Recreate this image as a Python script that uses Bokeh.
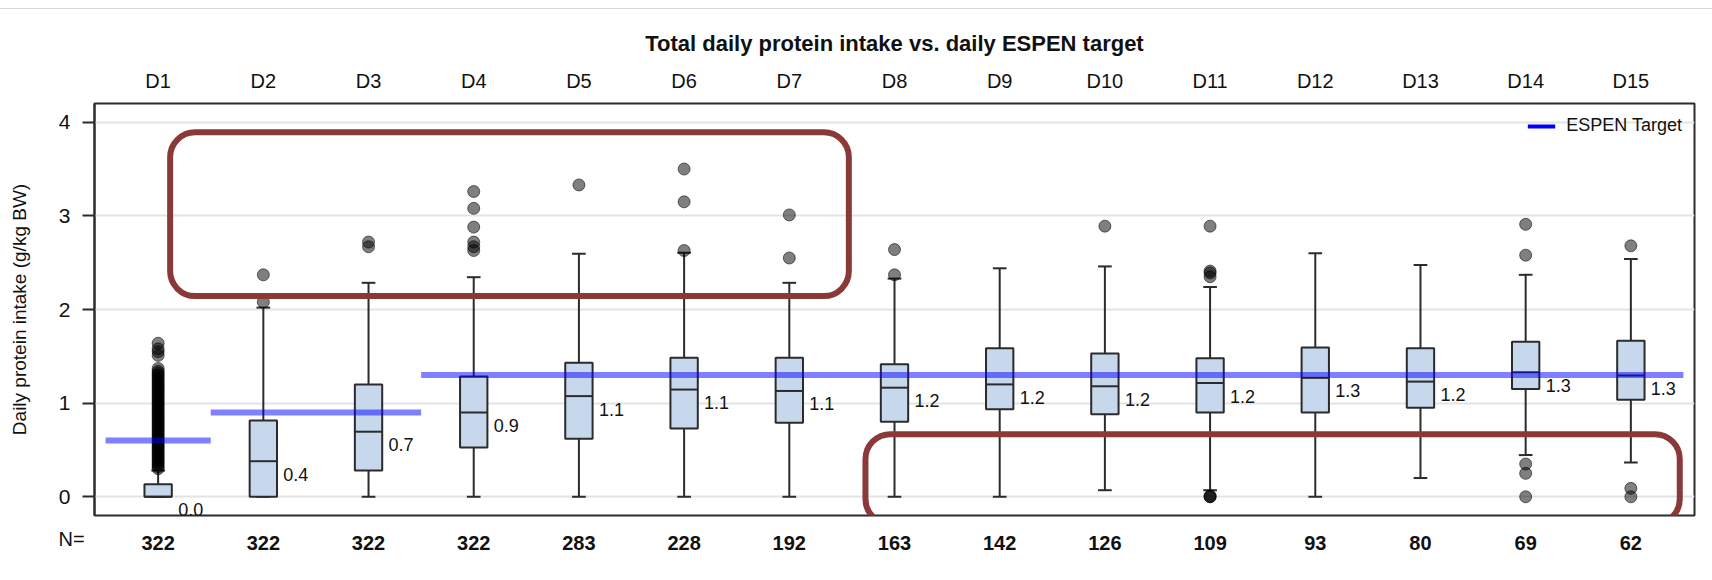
import math
from bokeh.plotting import figure
from bokeh.models import (Range1d, FixedTicker, LinearAxis, Legend, LegendItem,
                          BoxAnnotation, Title)
from bokeh.core.properties import value
from bokeh.embed import file_html
from bokeh.resources import INLINE

# ---------------- data ----------------
days = ["D1", "D2", "D3", "D4", "D5", "D6", "D7", "D8", "D9", "D10",
        "D11", "D12", "D13", "D14", "D15"]
n_counts = [322, 322, 322, 322, 283, 228, 192, 163, 142, 126, 109, 93, 80, 69, 62]
q1 = [0.0, 0.0, 0.28, 0.525, 0.62, 0.73, 0.79, 0.80, 0.935, 0.88, 0.90, 0.90, 0.95, 1.15, 1.035]
medians = [0.0, 0.38, 0.695, 0.90, 1.075, 1.145, 1.13, 1.165, 1.20, 1.18, 1.215, 1.27, 1.23, 1.33, 1.295]
q3 = [0.135, 0.815, 1.20, 1.285, 1.43, 1.485, 1.485, 1.415, 1.585, 1.53, 1.48, 1.595, 1.585, 1.655, 1.665]
whisk_lo = [0.0, 0.0, 0.0, 0.0, 0.0, 0.0, 0.0, 0.0, 0.0, 0.07, 0.07, 0.0, 0.20, 0.445, 0.365]
whisk_hi = [0.28, 2.02, 2.285, 2.345, 2.595, 2.605, 2.285, 2.33, 2.44, 2.46, 2.24, 2.60, 2.475, 2.37, 2.54]
median_labels = ["0.0", "0.4", "0.7", "0.9", "1.1", "1.1", "1.1", "1.2", "1.2", "1.2",
                 "1.2", "1.3", "1.2", "1.3", "1.3"]
espen_target = [0.6, 0.9, 0.9, 1.3, 1.3, 1.3, 1.3, 1.3, 1.3, 1.3, 1.3, 1.3, 1.3, 1.3, 1.3]
outliers = [
    [0.30, 0.32, 0.34, 0.36, 0.38, 0.40, 0.42, 0.44, 0.46, 0.48, 0.50, 0.52, 0.54, 0.56,
     0.58, 0.60, 0.62, 0.64, 0.66, 0.68, 0.70, 0.72, 0.74, 0.76, 0.78, 0.80, 0.82, 0.84,
     0.86, 0.88, 0.90, 0.92, 0.94, 0.96, 0.98, 1.00, 1.02, 1.04, 1.06, 1.08, 1.10, 1.12,
     1.14, 1.16, 1.18, 1.20, 1.22, 1.24, 1.26, 1.28, 1.30, 1.32, 1.34, 1.37,
     1.51, 1.55, 1.58, 1.64],
    [2.08, 2.37],
    [2.67, 2.72],
    [2.63, 2.67, 2.72, 2.88, 3.08, 3.26],
    [3.33],
    [2.63, 3.15, 3.50],
    [2.55, 3.01],
    [2.37, 2.64],
    [],
    [2.89],
    [0.0, 0.0, 0.01, 2.35, 2.39, 2.41, 2.89],
    [],
    [],
    [0.0, 0.25, 0.35, 2.58, 2.91],
    [0.0, 0.09, 2.68],
]
y_ticks = [0, 1, 2, 3, 4]

# ---------------- styles ----------------
FONT = "Liberation Sans"
BOX_W = 0.26
CAP_W = 0.13
BOX_FILL = "#c8d8ec"
DARK = "#2b2b2b"
HILITE = "#8b3838"

xs = [i + 1 for i in range(len(days))]

p = figure(width=1712, height=571, x_range=Range1d(0.395, 15.605), y_range=Range1d(-0.2, 4.2),
           x_axis_location="above", output_backend="svg", toolbar_location=None,
           title="Total daily protein intake vs. daily ESPEN target",
           min_border_left=94, min_border_right=18, min_border_top=94, min_border_bottom=65)
p.styles = {"margin-top": "8px", "border-top": "1px solid #d6d6d6"}
p.background_fill_color = "white"
p.outline_line_color = DARK
p.outline_line_width = 2

p.title.align = "center"
p.title.text_font = FONT
p.title.text_font_size = "22px"
p.title.text_font_style = "bold"
p.title.text_color = "#111111"
p.title.standoff = 10

# top axis: day labels
top = p.xaxis[0]
top.ticker = FixedTicker(ticks=xs)
top.major_label_overrides = {x: d for x, d in zip(xs, days)}
top.axis_line_color = None
top.major_tick_line_color = None
top.major_tick_out = 0
top.major_tick_in = 0
top.minor_tick_line_color = None
top.major_label_text_font = FONT
top.major_label_text_font_size = "20px"
top.major_label_text_color = "#111111"
top.major_label_standoff = 12

# small spacer between the day labels and the main title
spacer = Title(text=" ", text_font_size="1px", standoff=3)
p.add_layout(spacer, "above")

# "N=" row caption (panel right below the frame) and the N counts axis pulled up beside it
n_title = Title(text="N=", align="left", offset=-36, standoff=20, vertical_align="bottom",
                text_font=FONT, text_font_size="20px", text_font_style="normal",
                text_color="#111111")

bottom = LinearAxis(ticker=FixedTicker(ticks=xs),
                    major_label_overrides={x: str(n) for x, n in zip(xs, n_counts)})
bottom.axis_line_color = None
bottom.major_tick_line_color = None
bottom.major_tick_out = 0
bottom.major_tick_in = 0
bottom.minor_tick_line_color = None
bottom.major_label_text_font = FONT
bottom.major_label_text_font_size = "20px"
bottom.major_label_text_font_style = "bold"
bottom.major_label_text_color = "#111111"
bottom.major_label_standoff = -24
p.below = [n_title, bottom]

# y axis
ya = p.yaxis[0]
ya.ticker = FixedTicker(ticks=y_ticks)
ya.axis_label = "Daily protein intake (g/kg BW)"
ya.axis_label_text_font = FONT
ya.axis_label_text_font_size = "19px"
ya.axis_label_text_font_style = "normal"
ya.axis_label_text_color = "#111111"
ya.axis_label_standoff = 26
ya.major_label_text_font = FONT
ya.major_label_text_font_size = "21px"
ya.major_label_text_color = "#111111"
ya.major_label_standoff = 12
ya.major_tick_out = 12
ya.major_tick_in = 0
ya.major_tick_line_color = DARK
ya.major_tick_line_width = 2
ya.minor_tick_line_color = None
ya.axis_line_color = DARK
ya.axis_line_width = 2

p.xgrid.visible = False
p.ygrid.ticker = FixedTicker(ticks=y_ticks)
p.ygrid.grid_line_color = "#e3e3e3"
p.ygrid.grid_line_width = 2

# whiskers
p.segment(x0=xs, y0=q3, x1=xs, y1=whisk_hi, line_color=DARK, line_width=2)
p.segment(x0=xs, y0=q1, x1=xs, y1=whisk_lo, line_color=DARK, line_width=2)
p.segment(x0=[x - CAP_W / 2 for x in xs], y0=whisk_hi, x1=[x + CAP_W / 2 for x in xs], y1=whisk_hi,
          line_color=DARK, line_width=2)
p.segment(x0=[x - CAP_W / 2 for x in xs], y0=whisk_lo, x1=[x + CAP_W / 2 for x in xs], y1=whisk_lo,
          line_color=DARK, line_width=2)

# boxes
p.vbar(x=xs, width=BOX_W, bottom=q1, top=q3, fill_color=BOX_FILL, line_color=DARK, line_width=2)
p.segment(x0=[x - BOX_W / 2 for x in xs], y0=medians, x1=[x + BOX_W / 2 for x in xs], y1=medians,
          line_color=DARK, line_width=2)

# outliers
ox, oy = [], []
for x, vals in zip(xs, outliers):
    for v in vals:
        ox.append(x)
        oy.append(v)
p.scatter(x=ox, y=oy, size=12, marker="circle", fill_color="#000000", fill_alpha=0.5,
          line_color="#000000", line_alpha=0.55, line_width=1)

# median labels
p.text(x=xs, y=medians, text=median_labels, x_offset=20, y_offset=13,
       text_align="left", text_baseline="middle", text_font_size="18px",
       text_color="#111111", text_font=value(FONT))

# ESPEN target segments (runs of equal target)
runs_x, runs_y = [], []
start = 0
for i in range(1, len(xs) + 1):
    if i == len(xs) or espen_target[i] != espen_target[start]:
        runs_x.append([xs[start] - 0.5, xs[i - 1] + 0.5])
        runs_y.append([espen_target[start], espen_target[start]])
        start = i
p.multi_line(xs=runs_x, ys=runs_y, line_color="#0000ff", line_alpha=0.5, line_width=6,
             line_cap="butt")

# legend (full-colour sample)
leg_r = p.line(x=[float("nan")], y=[float("nan")], line_color="#0000ff", line_width=4)
legend = Legend(items=[LegendItem(label="ESPEN Target", renderers=[leg_r])],
                location="top_right", border_line_color=None, background_fill_alpha=0,
                label_text_font=FONT, label_text_font_size="18px", label_text_color="#111111",
                glyph_width=28, label_standoff=11, margin=12, padding=4, spacing=0)
p.add_layout(legend)

# highlight annotations (rounded red frames)
p.add_layout(BoxAnnotation(left=1.114, right=7.566, top=3.893, bottom=2.143,
                           fill_alpha=0, line_color=HILITE, line_alpha=1, line_width=6,
                           border_radius=25))
p.add_layout(BoxAnnotation(left=7.724, right=15.465, top=0.669, bottom=-0.291,
                           fill_alpha=0, line_color=HILITE, line_alpha=1, line_width=6,
                           border_radius=25))

open("out.html", "w").write(file_html(p, INLINE))
